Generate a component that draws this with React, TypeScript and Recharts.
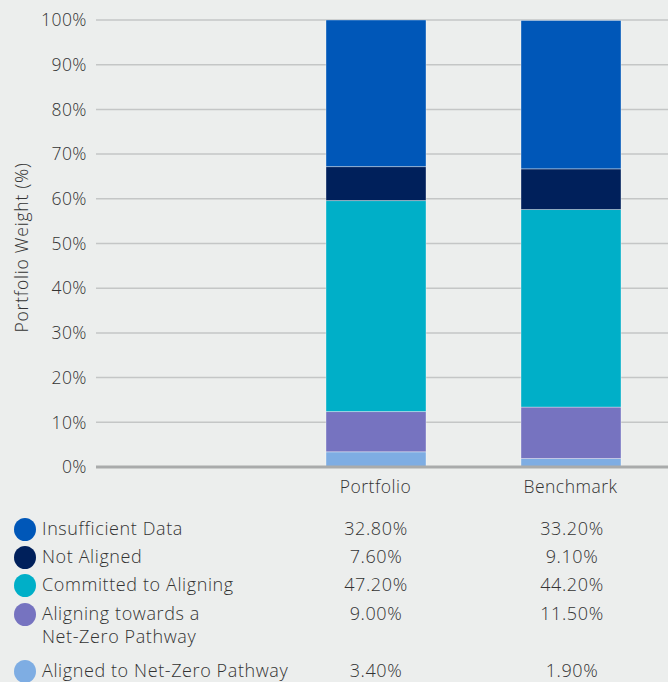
import React from 'react';
import { BarChart, Bar, XAxis, YAxis, CartesianGrid, Label } from 'recharts';

const categories = ['Portfolio', 'Benchmark'];
const seriesNames = [
    'Insufficient Data',
    'Not Aligned',
    'Committed to Aligning',
    'Aligning towards a Net-Zero Pathway',
    'Aligned to Net-Zero Pathway',
];
const legendLines = [
    ['Insufficient Data'],
    ['Not Aligned'],
    ['Committed to Aligning'],
    ['Aligning towards a', 'Net-Zero Pathway'],
    ['Aligned to Net-Zero Pathway'],
];
const insufficientData = [32.8, 33.2];
const notAligned = [7.6, 9.1];
const committed = [47.2, 44.2];
const aligning = [9.0, 11.5];
const aligned = [3.4, 1.9];
const yTicks = [0, 10, 20, 30, 40, 50, 60, 70, 80, 90, 100];

const seriesValues = [insufficientData, notAligned, committed, aligning, aligned];
const colors = ['#0057b8', '#00205b', '#00afc8', '#7673c0', '#7eade3'];
const keys = ['insufficient', 'notAligned', 'committed', 'aligning', 'aligned'];

const data = categories.map((name, i) => {
    const row: Record<string, number | string> = { name };
    keys.forEach((k, s) => {
        row[k] = seriesValues[s][i];
    });
    return row;
});

// stacked bottom to top
const stackOrder = [4, 3, 2, 1, 0];

const FONT = "'Open Sans', 'Lato', sans-serif";
const TEXT = '#333';
const tickStyle = { fill: TEXT, fontSize: 17.5, fontFamily: FONT, fontWeight: 300, letterSpacing: 0.5 };

const YLabel = (props: any) => {
    const { viewBox } = props;
    const x = viewBox.x + 21;
    const y = viewBox.y + viewBox.height / 2 + 4;
    return (
        <text
            x={x}
            y={y}
            transform={`rotate(-90 ${x} ${y})`}
            textAnchor="middle"
            dominantBaseline="central"
            fill={TEXT}
            fontSize={17.5}
            fontWeight={300}
            letterSpacing={0.8}
            fontFamily={FONT}
        >
            Portfolio Weight (%)
        </text>
    );
};

const App: React.FC = () => {
    const rowTops = [517, 545, 573, 602, 659];
    return (
        <div
            style={{
                position: 'fixed',
                top: 0,
                left: 0,
                width: 668,
                height: 682,
                background: '#eceeed',
                fontFamily: FONT,
                fontWeight: 300,
                color: TEXT,
                overflow: 'hidden',
            }}
        >
            <BarChart
                width={668}
                height={500}
                data={data}
                margin={{ top: 20, right: 0, bottom: 0, left: 0 }}
                barSize={100}
            >
                <CartesianGrid vertical={false} stroke="#c4c6c6" strokeWidth={1.5} />
                <XAxis
                    dataKey="name"
                    height={33}
                    padding={{ left: 182, right: 0 }}
                    axisLine={{ stroke: '#a9abab', strokeWidth: 3 }}
                    tickLine={false}
                    tick={tickStyle}
                    tickMargin={8}
                />
                <YAxis
                    width={96}
                    domain={[0, 100]}
                    ticks={yTicks}
                    interval={0}
                    allowDataOverflow
                    axisLine={false}
                    tickLine={false}
                    tickMargin={3}
                    tickFormatter={(v) => `${v}%`}
                    tick={tickStyle}
                >
                    <Label content={<YLabel />} />
                </YAxis>
                {stackOrder.map((s) => (
                    <Bar
                        key={keys[s]}
                        dataKey={keys[s]}
                        name={seriesNames[s]}
                        stackId="a"
                        fill={colors[s]}
                        stroke="rgba(255,255,255,0.35)"
                        strokeWidth={1}
                        isAnimationActive={false}
                    />
                ))}
            </BarChart>
            {legendLines.map((lines, s) => (
                <div
                    key={s}
                    style={{
                        position: 'absolute',
                        top: rowTops[s],
                        left: 0,
                        width: 668,
                        fontSize: 18,
                        letterSpacing: 0.6,
                        lineHeight: '23px',
                    }}
                >
                    <div
                        style={{
                            position: 'absolute',
                            left: 14,
                            top: 1,
                            width: 22,
                            height: 23,
                            borderRadius: '50%',
                            background: colors[s],
                        }}
                    />
                    <div style={{ position: 'absolute', left: 42, top: 0, whiteSpace: 'nowrap' }}>
                        {lines.map((l, j) => (
                            <div key={j}>{l}</div>
                        ))}
                    </div>
                    {categories.map((c, i) => (
                        <div
                            key={c}
                            style={{
                                position: 'absolute',
                                left: i === 0 ? 316 : 512,
                                width: 120,
                                top: 0,
                                textAlign: 'center',
                            }}
                        >
                            {seriesValues[s][i].toFixed(2)}%
                        </div>
                    ))}
                </div>
            ))}
        </div>
    );
};

export default App;
